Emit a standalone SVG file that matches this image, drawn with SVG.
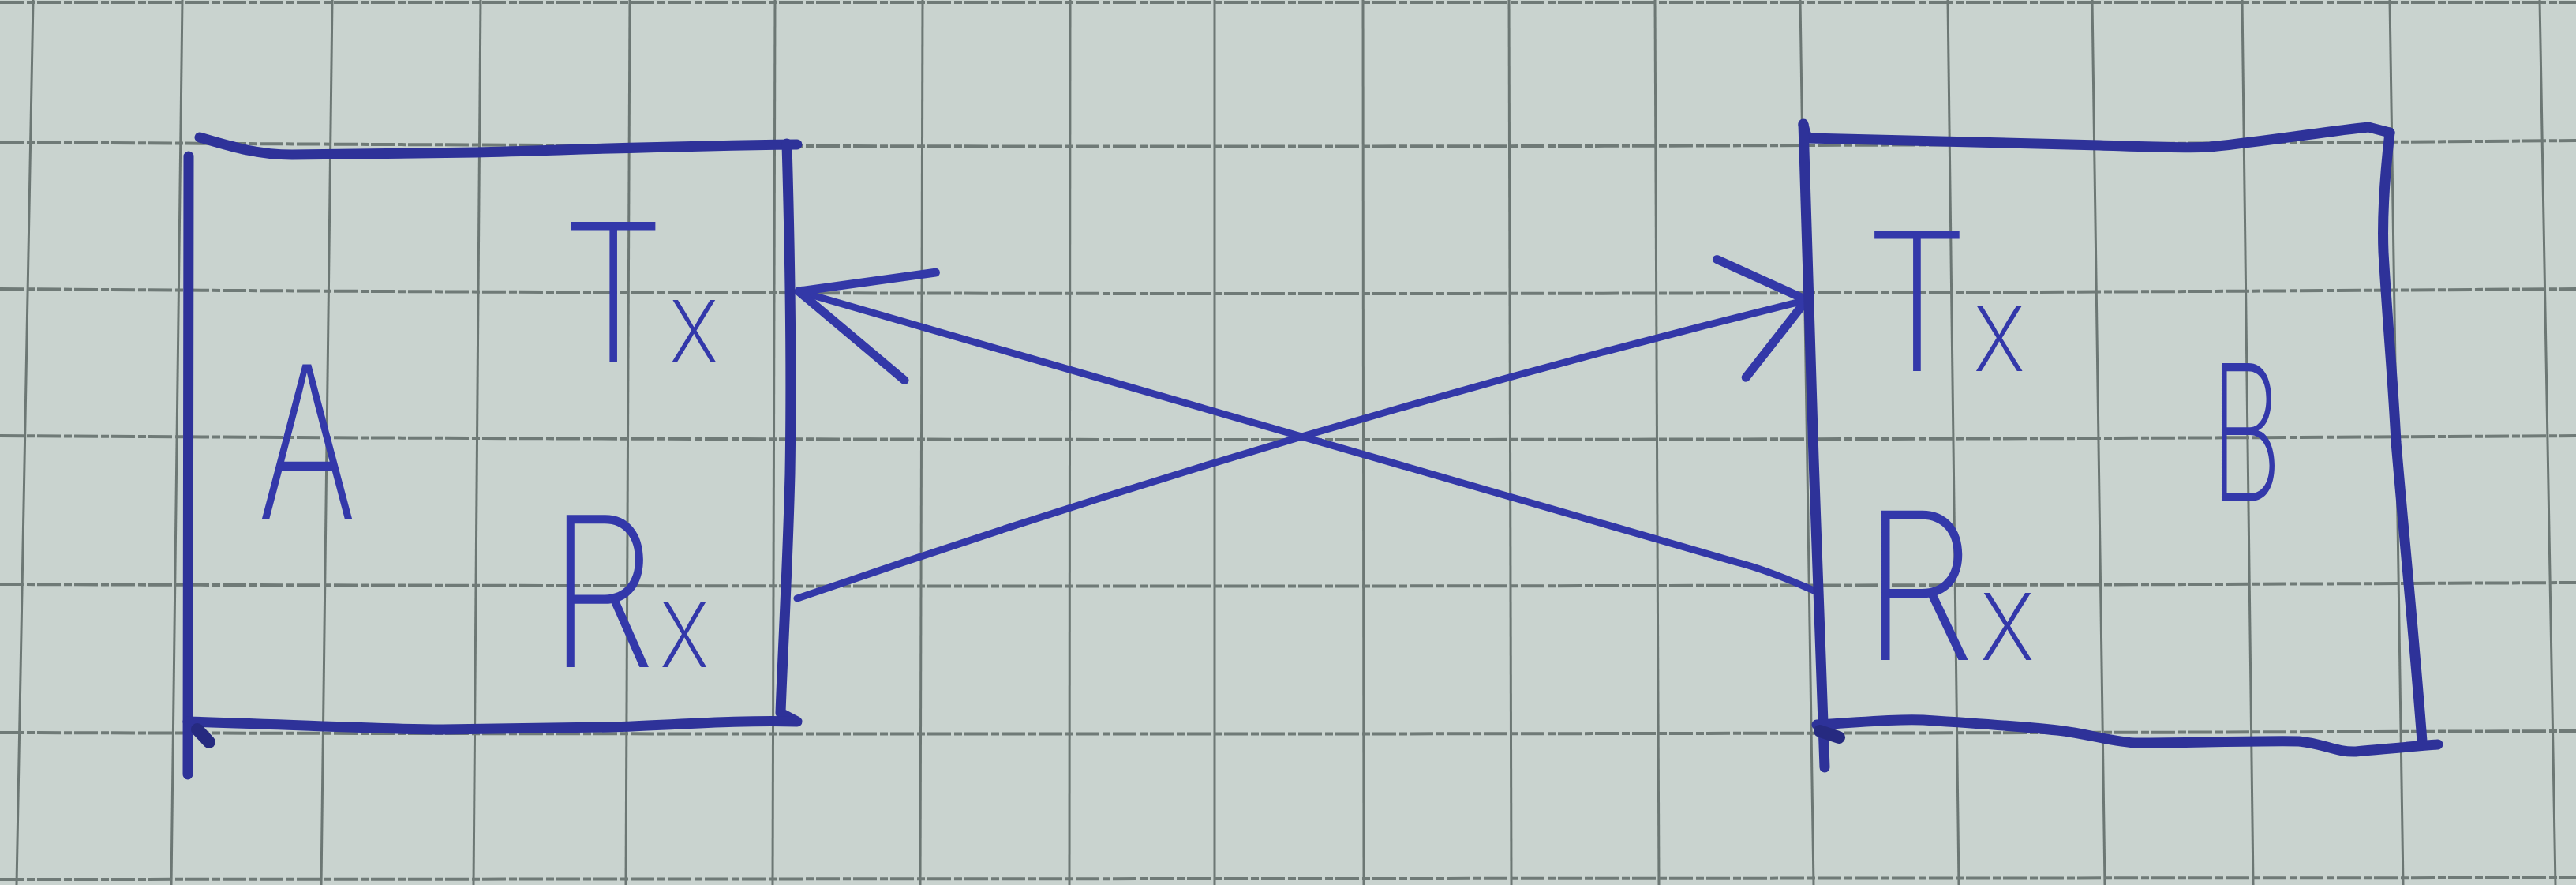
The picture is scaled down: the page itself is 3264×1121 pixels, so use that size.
<svg xmlns="http://www.w3.org/2000/svg" width="3264" height="1121" viewBox="0 0 3264 1121">
<style>
.paper{fill:#c9d3cf}
.gv{stroke:#6c7774;stroke-width:3;fill:none}
.gh{stroke:#6f7a77;stroke-width:4;fill:none;stroke-dasharray:30 4 10 3}
.box{stroke:#2e3299;stroke-width:13;fill:none;stroke-linecap:round;stroke-linejoin:round}
.blob{stroke:#262a80;stroke-width:16;fill:none;stroke-linecap:round}
.edge{stroke:#3338a8;stroke-width:9;fill:none;stroke-linecap:round;stroke-linejoin:round}
.head{stroke:#3338a8;stroke-width:11;fill:none;stroke-linecap:round;stroke-linejoin:round}
.lbl{font-family:Inter,"Liberation Sans",sans-serif;font-weight:200;fill:#3338aa}
</style>
<defs>
<marker id="headA" markerUnits="userSpaceOnUse" orient="auto" markerWidth="1" markerHeight="1" refX="0" refY="0" overflow="visible">
<path class="head" d="M-160,-71 L0,0 L-160,71"/>
</marker>
<marker id="headB" markerUnits="userSpaceOnUse" orient="auto" markerWidth="1" markerHeight="1" refX="0" refY="0" overflow="visible">
<path class="head" d="M-98,-77 L0,0 L-98,77"/>
</marker>
</defs>
<rect class="paper" x="0" y="0" width="3264" height="1121"/>
<g id="grid">
<path class="gv" d="M42,0 L21,1121"/>
<path class="gv" d="M231,0 L217,1121"/>
<path class="gv" d="M421,0 L407,1121"/>
<path class="gv" d="M609,0 L600,1121"/>
<path class="gv" d="M798,0 L793,1121"/>
<path class="gv" d="M982,0 L979,1121"/>
<path class="gv" d="M1169,0 L1166,1121"/>
<path class="gv" d="M1356,0 L1355,1121"/>
<path class="gv" d="M1539,0 L1539,1121"/>
<path class="gv" d="M1727,0 L1728,1121"/>
<path class="gv" d="M1912,0 L1915,1121"/>
<path class="gv" d="M2097,0 L2102,1121"/>
<path class="gv" d="M2281,0 L2298,1121"/>
<path class="gv" d="M2468,0 L2482,1121"/>
<path class="gv" d="M2651,0 L2667,1121"/>
<path class="gv" d="M2841,0 L2855,1121"/>
<path class="gv" d="M3028,0 L3045,1121"/>
<path class="gv" d="M3218,0 L3238,1121"/>
<path class="gh" d="M0,3 L3264,3"/>
<path class="gh" d="M0,180 Q1632,192 3264,178"/>
<path class="gh" d="M0,366 Q1632,378 3264,366"/>
<path class="gh" d="M0,552 Q1632,562 3264,552"/>
<path class="gh" d="M0,740 Q1632,746 3264,738"/>
<path class="gh" d="M0,928 Q1632,932 3264,926"/>
<path class="gh" d="M0,1114 L3264,1112"/>
</g>
<g id="connectors">
<path id="rxA-txB" class="edge" marker-end="url(#headB)" d="M1010,758 Q1650,537 2289,380"/>
<path id="rxB-txA" class="edge" marker-end="url(#headA)" d="M2298,748 Q2240,722 2200,712 L1012,369"/>
</g>
<g id="nodeA">
<path class="box" d="M253,174 C300,188 330,196 370,196 L603,193 C720,190 840,185 1010,183"/>
<path class="box" d="M239,198 L238,981"/>
<path class="box" d="M997,182 C1001,320 1003,480 1001,600 C998,720 992,820 989,903 L1008,913"/>
<path class="box" d="M238,914 C380,918 480,924 561,924 C660,923 720,922 772,921 C860,918 930,912 1010,914"/>
<path class="blob" d="M250,924 L265,940"/>
<text class="lbl" x="326" y="658" font-size="270" textLength="126" lengthAdjust="spacingAndGlyphs">A</text>
<text class="lbl" transform="translate(712,459) scale(0.85,1)" font-size="245">T<tspan dx="6" font-size="145">x</tspan></text>
<text class="lbl" transform="translate(695,845) scale(0.82,1)" font-size="265">R<tspan dx="6" font-size="150">x</tspan></text>
</g>
<g id="nodeB">
<path class="box" d="M2285,158 C2287,166 2288,172 2292,175 C2450,178 2560,182 2661,184 C2720,186 2760,188 2800,186 C2880,178 2950,166 3001,161 L3028,168"/>
<path class="box" d="M2285,157 C2289,300 2294,440 2298,580 C2303,720 2308,850 2312,972"/>
<path class="box" d="M3028,168 C3022,220 3018,270 3020,320 C3026,420 3032,480 3036,560 C3048,700 3060,820 3069,939"/>
<path class="box" d="M2302,918 C2360,915 2400,910 2437,912 C2500,916 2560,920 2607,925 C2650,930 2680,941 2709,941 C2780,941 2860,938 2913,939 C2945,942 2960,953 2985,952 C3030,948 3060,945 3089,943"/>
<path class="blob" d="M2306,926 L2330,934"/>
<text class="lbl" x="2800" y="635" font-size="240" textLength="92" lengthAdjust="spacingAndGlyphs">B</text>
<text class="lbl" transform="translate(2363,470) scale(0.86,1)" font-size="245">T<tspan dx="6" font-size="150">x</tspan></text>
<text class="lbl" transform="translate(2360,836) scale(0.88,1)" font-size="260">R<tspan dx="6" font-size="155">x</tspan></text>
</g>
</svg>
